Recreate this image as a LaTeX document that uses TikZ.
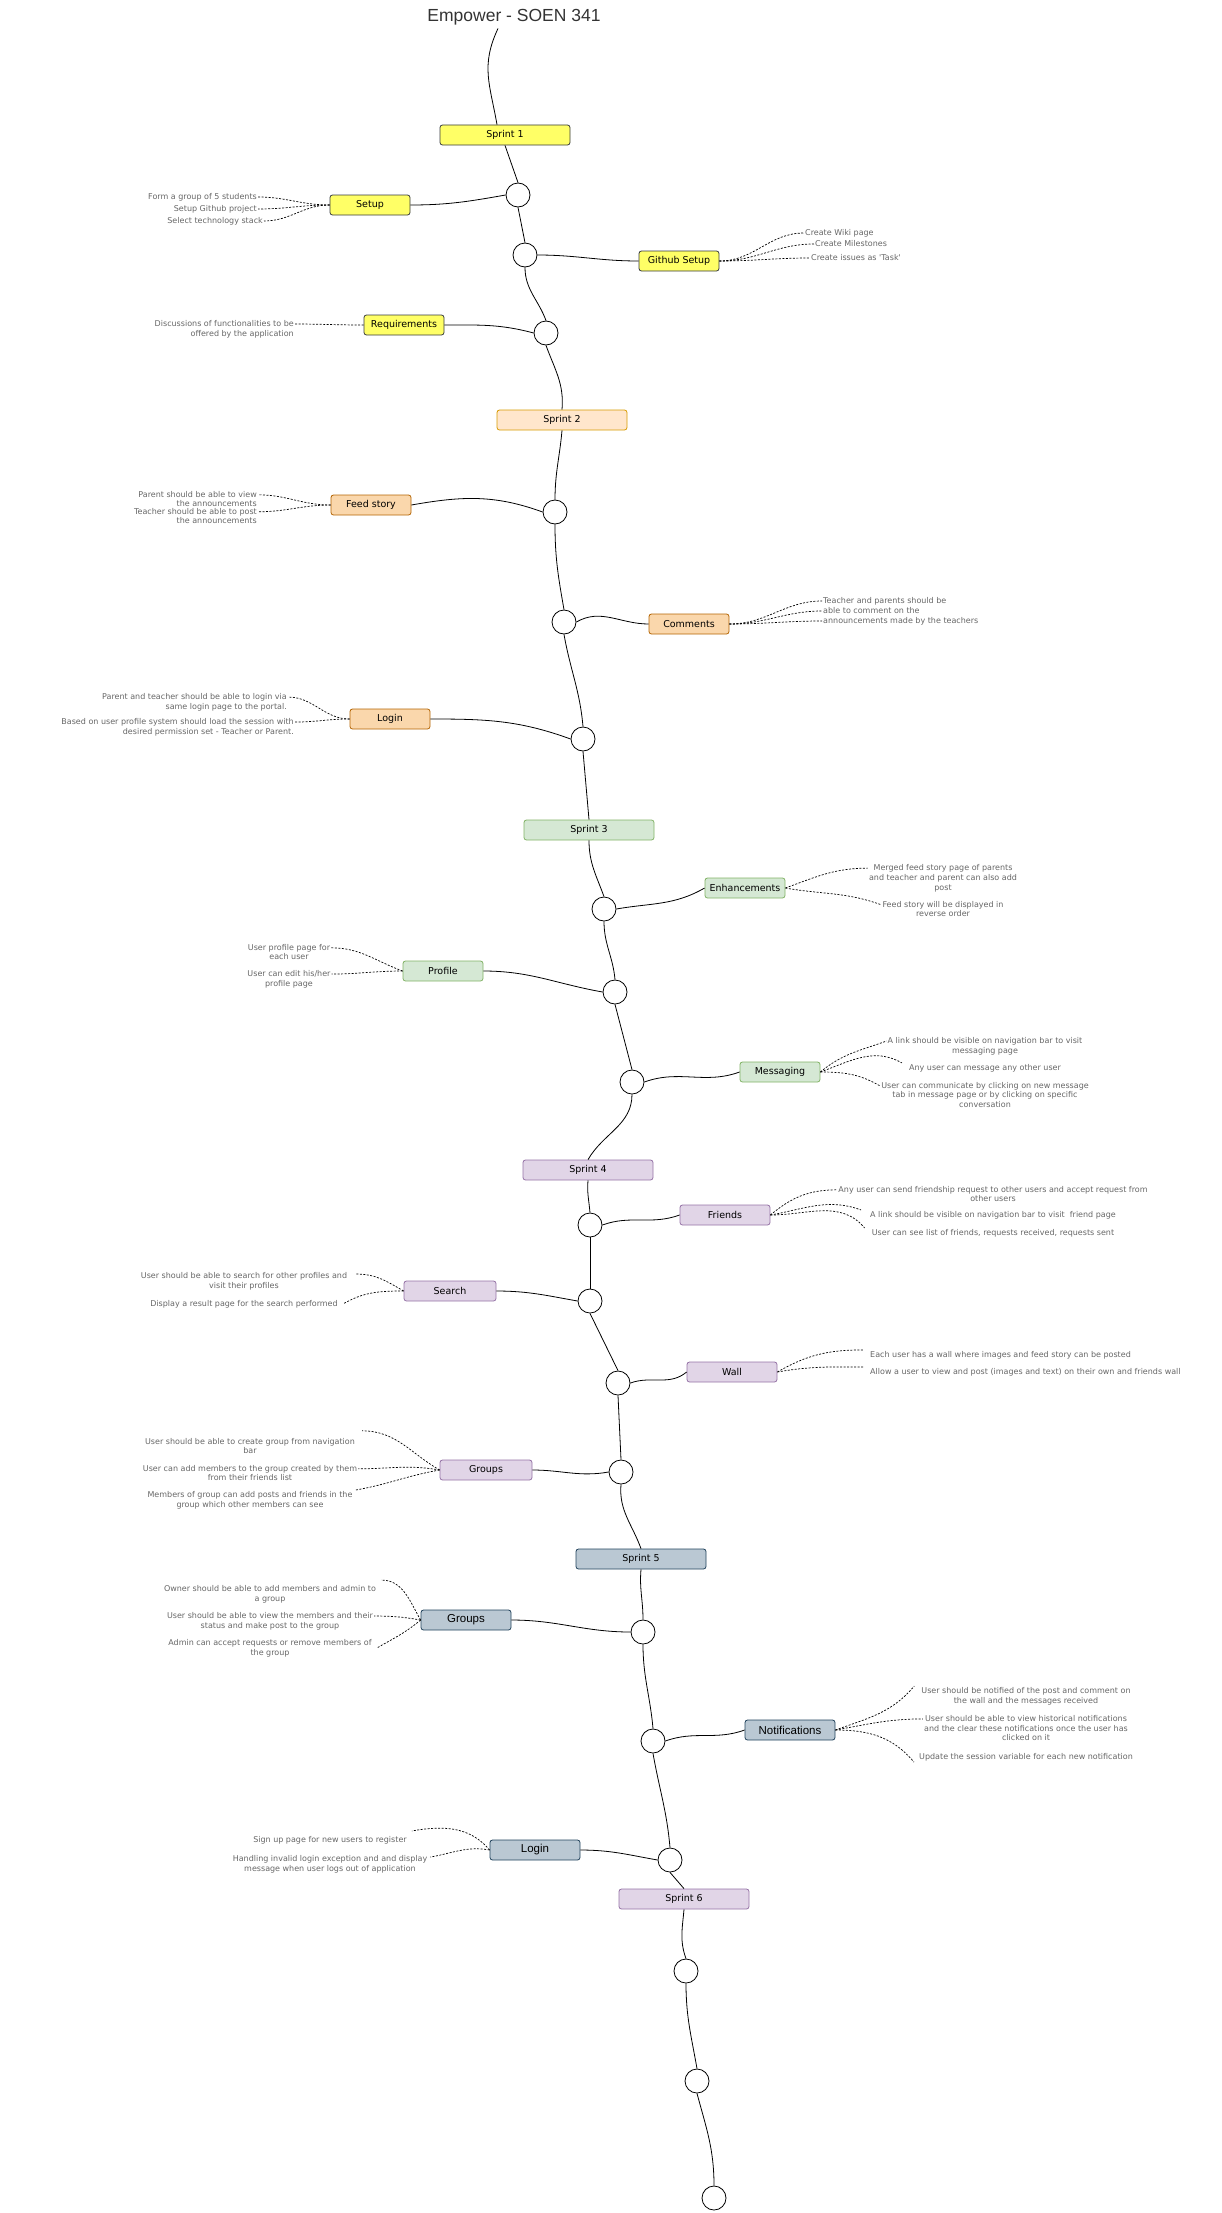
\documentclass[tikz,border=0pt]{standalone}
\usepackage{fontspec}
\setmainfont{DejaVu Sans}
\newfontfamily\arialfont{Liberation Sans}
\usepackage{tikz}
\usetikzlibrary{positioning}
\definecolor{sprintyellow}{HTML}{FFFF66}
\definecolor{yellowline}{HTML}{36393D}
\definecolor{peachfill}{HTML}{FFE6CC}
\definecolor{peachline}{HTML}{D79B00}
\definecolor{orangefill}{HTML}{FAD7AC}
\definecolor{orangeline}{HTML}{B46504}
\definecolor{greenfill}{HTML}{D5E8D4}
\definecolor{greenline}{HTML}{82B366}
\definecolor{purplefill}{HTML}{E1D5E7}
\definecolor{purpleline}{HTML}{9673A6}
\definecolor{slatefill}{HTML}{BAC8D3}
\definecolor{slateline}{HTML}{23445D}
\definecolor{notegray}{HTML}{666666}
\definecolor{titlegray}{HTML}{333333}

\begin{document}
\begin{tikzpicture}[x=1pt, y=-1pt,
    hub/.style={circle, draw, fill=white, line width=0.8pt, minimum size=24pt, inner sep=0pt},
    task/.style={draw, rounded corners=2.5pt, minimum width=80pt, minimum height=20pt, inner sep=1pt, line width=0.8pt, font=\fontsize{9.5}{11}\selectfont},
    bigtask/.style={task, minimum width=90pt, font=\arialfont\fontsize{11.5}{13}\selectfont},
    sprintbox/.style={task, minimum width=130pt},
    yellow/.style={fill=sprintyellow, draw=yellowline},
    peach/.style={fill=peachfill, draw=peachline},
    orange/.style={fill=orangefill, draw=orangeline},
    green/.style={fill=greenfill, draw=greenline},
    purple/.style={fill=purplefill, draw=purpleline},
    slate/.style={fill=slatefill, draw=slateline},
    note/.style={font=\fontsize{8}{9.8}\selectfont, text=notegray, inner sep=1pt},
    wire/.style={line width=0.8pt},
    link/.style={line width=0.7pt, dash pattern=on 2pt off 1.5pt}
]
    \useasboundingbox (0,0) rectangle (1222,2213);

    % title and spine
    \node[font=\arialfont\fontsize{17.5}{20}\selectfont, text=titlegray] (title) at (514,17) {Empower - SOEN 341};

    \node[sprintbox, yellow] (sprint1) at (505,135) {Sprint 1};
    \node[hub] (hub1) at (518,195) {};
    \node[hub] (hub2) at (525,255) {};
    \node[hub] (hub3) at (546,333) {};
    \node[sprintbox, peach] (sprint2) at (562,420) {Sprint 2};
    \node[hub] (hub4) at (555,512) {};
    \node[hub] (hub5) at (564,622) {};
    \node[hub] (hub6) at (583,739) {};
    \node[sprintbox, green] (sprint3) at (589,830) {Sprint 3};
    \node[hub] (hub7) at (604,909) {};
    \node[hub] (hub8) at (615,992) {};
    \node[hub] (hub9) at (632,1082) {};
    \node[sprintbox, purple] (sprint4) at (588,1170) {Sprint 4};
    \node[hub] (hub10) at (590,1225) {};
    \node[hub] (hub11) at (590,1301) {};
    \node[hub] (hub12) at (618,1383) {};
    \node[hub] (hub13) at (621,1472) {};
    \node[sprintbox, slate] (sprint5) at (641,1559) {Sprint 5};
    \node[hub] (hub14) at (643,1632) {};
    \node[hub] (hub15) at (653,1741) {};
    \node[hub] (hub16) at (670,1860) {};
    \node[sprintbox, purple] (sprint6) at (684,1899) {Sprint 6};
    \node[hub] (hub17) at (686,1971) {};
    \node[hub] (hub18) at (697,2081) {};
    \node[hub] (hub19) at (714,2198) {};

    \draw[wire] ([xshift=-16pt]title.south) to[out=245,in=100,looseness=1.1] ([xshift=-8pt]sprint1.north);
    \draw[wire] (sprint1.south) -- (hub1.north);
    \draw[wire] (hub1.south) -- (hub2.north);
    \draw[wire] (hub2.south) to[out=-90,in=110] (hub3.north);
    \draw[wire] (hub3.south) to[out=-70,in=85] (sprint2.north);
    \draw[wire] (sprint2.south) to[out=-95,in=90] (hub4.north);
    \draw[wire] (hub4.south) to[out=-90,in=100] (hub5.north);
    \draw[wire] (hub5.south) to[out=-80,in=95] (hub6.north);
    \draw[wire] (hub6.south) -- (sprint3.north);
    \draw[wire] (sprint3.south) to[out=-90,in=110] (hub7.north);
    \draw[wire] (hub7.south) to[out=-90,in=95] (hub8.north);
    \draw[wire] (hub8.south) -- (hub9.north);
    \draw[wire] (hub9.south) to[out=-90,in=60] (sprint4.north);
    \draw[wire] (sprint4.south) to[out=-95,in=95] (hub10.north);
    \draw[wire] (hub10.south) -- (hub11.north);
    \draw[wire] (hub11.south) -- (hub12.north);
    \draw[wire] (hub12.south) -- (hub13.north);
    \draw[wire] (hub13.south) to[out=-95,in=110] (sprint5.north);
    \draw[wire] (sprint5.south) to[out=-95,in=90] (hub14.north);
    \draw[wire] (hub14.south) to[out=-90,in=95] (hub15.north);
    \draw[wire] (hub15.south) to[out=-80,in=95] (hub16.north);
    \draw[wire] (hub16.south) -- (sprint6.north);
    \draw[wire] (sprint6.south) to[out=-95,in=110] (hub17.north);
    \draw[wire] (hub17.south) to[out=-90,in=100] (hub18.north);
    \draw[wire] (hub18.south) to[out=-75,in=90] (hub19.north);

    % sprint 1
    \node[task, yellow] (setup) at (370,205) {Setup};
    \node[task, yellow] (github) at (679,261) {Github Setup};
    \node[task, yellow] (requirements) at (404,325) {Requirements};
    \draw[wire] (hub1.west) to[out=190,in=0] (setup.east);
    \draw[wire] (hub2.east) to[out=0,in=180] (github.west);
    \draw[wire] (hub3.west) to[out=165,in=0] (requirements.east);

    \node[note, anchor=east] (setup1) at (258,197) {Form a group of 5 students};
    \node[note, anchor=east] (setup2) at (258,209) {Setup Github project};
    \node[note, anchor=east] (setup3) at (264,221) {Select technology stack};
    \draw[link] (setup.west) to[out=180,in=0] (setup1.east);
    \draw[link] (setup.west) to[out=180,in=0] (setup2.east);
    \draw[link] (setup.west) to[out=180,in=0] (setup3.east);

    \node[note, anchor=west] (github1) at (804,233) {Create Wiki page};
    \node[note, anchor=west] (github2) at (814,244) {Create Milestones};
    \node[note, anchor=west] (github3) at (810,258) {Create issues as \textquotesingle Task\textquotesingle};
    \draw[link] (github.east) to[out=0,in=180] (github1.west);
    \draw[link] (github.east) to[out=0,in=180] (github2.west);
    \draw[link] (github.east) to[out=0,in=180] (github3.west);

    \node[note, anchor=east, align=right] (req1) at (295,329) {Discussions of functionalities to be\\offered by the application};
    \draw[link] (requirements.west) to[out=180,in=0] ([yshift=-5pt]req1.north east);

    % sprint 2
    \node[task, orange] (feed) at (371,505) {Feed story};
    \node[task, orange] (comments) at (689,624) {Comments};
    \node[task, orange] (login) at (390,719) {Login};
    \draw[wire] (hub4.west) to[out=160,in=10] (feed.east);
    \draw[wire] (hub5.east) to[out=30,in=180] (comments.west);
    \draw[wire] (hub6.west) to[out=160,in=0] (login.east);

    \node[note, anchor=east, align=right] (feed1) at (258,499) {Parent should be able to view\\the announcements};
    \node[note, anchor=east, align=right] (feed2) at (258,516) {Teacher should be able to post\\the announcements};
    \draw[link] (feed.west) to[out=180,in=0] ([yshift=-5pt]feed1.north east);
    \draw[link] (feed.west) to[out=180,in=0] ([yshift=-5pt]feed2.north east);

    \node[note, anchor=west] (comm1) at (822,601) {Teacher and parents should be};
    \node[note, anchor=west] (comm2) at (822,611) {able to comment on the};
    \node[note, anchor=west] (comm3) at (822,621) {announcements made by the teachers};
    \draw[link] (comments.east) to[out=0,in=180] (comm1.west);
    \draw[link] (comments.east) to[out=0,in=180] (comm2.west);
    \draw[link] (comments.east) to[out=0,in=180] (comm3.west);

    \node[note, anchor=east, align=right] (login1) at (288,702) {Parent and teacher should be able to login via\\same login page to the portal.};
    \node[note, anchor=east, align=right] (login2) at (295,727) {Based on user profile system should load the session with\\desired permission set - Teacher or Parent.};
    \draw[link] (login.west) to[out=180,in=0] ([yshift=-5pt]login1.north east);
    \draw[link] (login.west) to[out=180,in=0] ([yshift=-5pt]login2.north east);

    % sprint 3
    \node[task, green] (enhance) at (745,888) {Enhancements};
    \node[task, green] (profile) at (443,971) {Profile};
    \node[task, green] (messaging) at (780,1072) {Messaging};
    \draw[wire] (hub7.east) to[out=10,in=210] (enhance.west);
    \draw[wire] (hub8.west) to[out=170,in=0] (profile.east);
    \draw[wire] (hub9.east) to[out=20,in=200] (messaging.west);

    \node[note, align=center] (enh1) at (943,878) {Merged feed story page of parents\\and teacher and parent can also add\\post};
    \node[note, align=center] (enh2) at (943,909) {Feed story will be displayed in\\reverse order};
    \draw[link] (enhance.east) to[out=20,in=180] ([yshift=-5pt]enh1.north west);
    \draw[link] (enhance.east) to[out=-10,in=160] ([yshift=-5pt]enh2.north west);

    \node[note, align=center] (prof1) at (289,952) {User profile page for\\each user};
    \node[note, align=center] (prof2) at (289,979) {User can edit his/her\\profile page};
    \draw[link] (profile.west) to[out=160,in=0] ([yshift=-5pt]prof1.north east);
    \draw[link] (profile.west) to[out=180,in=0] ([yshift=-5pt]prof2.north east);

    \node[note, align=center] (msg1) at (985,1046) {A link should be visible on navigation bar to visit\\messaging page};
    \node[note, align=center] (msg2) at (985,1068) {Any user can message any other user};
    \node[note, align=center] (msg3) at (985,1095) {User can communicate by clicking on new message\\tab in message page or by clicking on specific\\conversation};
    \draw[link] (messaging.east) to[out=40,in=200] ([yshift=-5pt]msg1.north west);
    \draw[link] (messaging.east) to[out=20,in=150] ([xshift=-6pt]msg2.north west);
    \draw[link] (messaging.east) to[out=0,in=150] ([yshift=-5pt]msg3.north west);

    % sprint 4
    \node[task, purple, minimum width=90pt] (friends) at (725,1215) {Friends};
    \node[task, purple, minimum width=92pt] (search) at (450,1291) {Search};
    \node[task, purple, minimum width=90pt] (wall) at (732,1372) {Wall};
    \node[task, purple, minimum width=92pt] (groups) at (486,1470) {Groups};
    \draw[wire] (hub10.east) to[out=20,in=200] (friends.west);
    \draw[wire] (hub11.west) to[out=170,in=0] (search.east);
    \draw[wire] (hub12.east) to[out=20,in=220] (wall.west);
    \draw[wire] (hub13.west) to[out=190,in=0] (groups.east);

    \node[note, align=center] (fr1) at (993,1194) {Any user can send friendship request to other users and accept request from\\other users};
    \node[note, align=center] (fr2) at (993,1215) {A link should be visible on navigation bar to visit\ \ friend page};
    \node[note, align=center] (fr3) at (993,1233) {User can see list of friends, requests received, requests sent};
    \draw[link] (friends.east) to[out=40,in=180] ([yshift=-5pt]fr1.north west);
    \draw[link] (friends.east) to[out=10,in=160] ([xshift=-8pt]fr2.north west);
    \draw[link] (friends.east) to[out=0,in=130] ([xshift=-6pt]fr3.north west);

    \node[note, align=center] (srch1) at (244,1281) {User should be able to search for other profiles and\\visit their profiles};
    \node[note, align=center] (srch2) at (244,1304) {Display a result page for the search performed};
    \draw[link] (search.west) to[out=150,in=0] ([xshift=8pt,yshift=-3pt]srch1.north east);
    \draw[link] (search.west) to[out=180,in=30] ([xshift=4pt]srch2.east);

    \node[note, anchor=west] (wall1) at (869,1355) {Each user has a wall where images and feed story can be posted};
    \node[note, anchor=west] (wall2) at (869,1372) {Allow a user to view and post (images and text) on their own and friends wall};
    \draw[link] (wall.east) to[out=30,in=180] ([xshift=-6pt]wall1.north west);
    \draw[link] (wall.east) to[out=10,in=180] ([xshift=-6pt]wall2.north west);

    \node[note, align=center] (grp1) at (250,1446) {User should be able to create group from navigation\\bar};
    \node[note, align=center] (grp2) at (250,1473) {User can add members to the group created by them\\from their friends list};
    \node[note, align=center] (grp3) at (250,1500) {Members of group can add posts and friends in the\\group which other members can see};
    \draw[link] (groups.west) to[out=150,in=0] ([xshift=6pt,yshift=6pt]grp1.north east);
    \draw[link] (groups.west) to[out=170,in=0] ([yshift=-5pt]grp2.north east);
    \draw[link] (groups.west) to[out=190,in=10] ([xshift=2pt]grp3.north east);

    % sprint 5
    \node[bigtask, slate] (groupsb) at (466,1620) {Groups};
    \node[bigtask, slate] (notif) at (790,1730) {Notifications};
    \node[bigtask, slate] (loginb) at (535,1850) {Login};
    \draw[wire] (hub14.west) to[out=180,in=0] (groupsb.east);
    \draw[wire] (hub15.east) to[out=20,in=200] (notif.west);
    \draw[wire] (hub16.west) to[out=170,in=0] (loginb.east);

    \node[note, align=center] (grpb1) at (270,1594) {Owner should be able to add members and admin to\\a group};
    \node[note, align=center] (grpb2) at (270,1621) {User should be able to view the members and their\\status and make post to the group};
    \node[note, align=center] (grpb3) at (270,1648) {Admin can accept requests or remove members of\\the group};
    \draw[link] (groupsb.west) to[out=120,in=0] ([xshift=4pt,yshift=4pt]grpb1.north east);
    \draw[link] (groupsb.west) to[out=170,in=0] ([yshift=-5pt]grpb2.north east);
    \draw[link] (groupsb.west) to[out=220,in=30] ([xshift=4pt]grpb3.east);

    \node[note, align=center] (ntf1) at (1026,1696) {User should be notified of the post and comment on\\the wall and the messages received};
    \node[note, align=center] (ntf2) at (1026,1728) {User should be able to view historical notifications\\and the clear these notifications once the user has\\clicked on it};
    \node[note, align=center] (ntf3) at (1026,1757) {Update the session variable for each new notification};
    \draw[link] (notif.east) to[out=20,in=230] ([xshift=-6pt]ntf1.north west);
    \draw[link] (notif.east) to[out=10,in=180] ([yshift=-5pt]ntf2.north west);
    \draw[link] (notif.east) to[out=0,in=130] ([xshift=-4pt]ntf3.south west);

    \node[note, align=center] (logb1) at (330,1840) {Sign up page for new users to register};
    \node[note, align=center] (logb2) at (330,1864) {Handling invalid login exception and and display\\message when user logs out of application};
    \draw[link] (loginb.west) to[out=130,in=10] ([xshift=4pt,yshift=4pt]logb1.north east);
    \draw[link] (loginb.west) to[out=170,in=10] ([xshift=2pt,yshift=-3pt]logb2.north east);
\end{tikzpicture}
\end{document}
